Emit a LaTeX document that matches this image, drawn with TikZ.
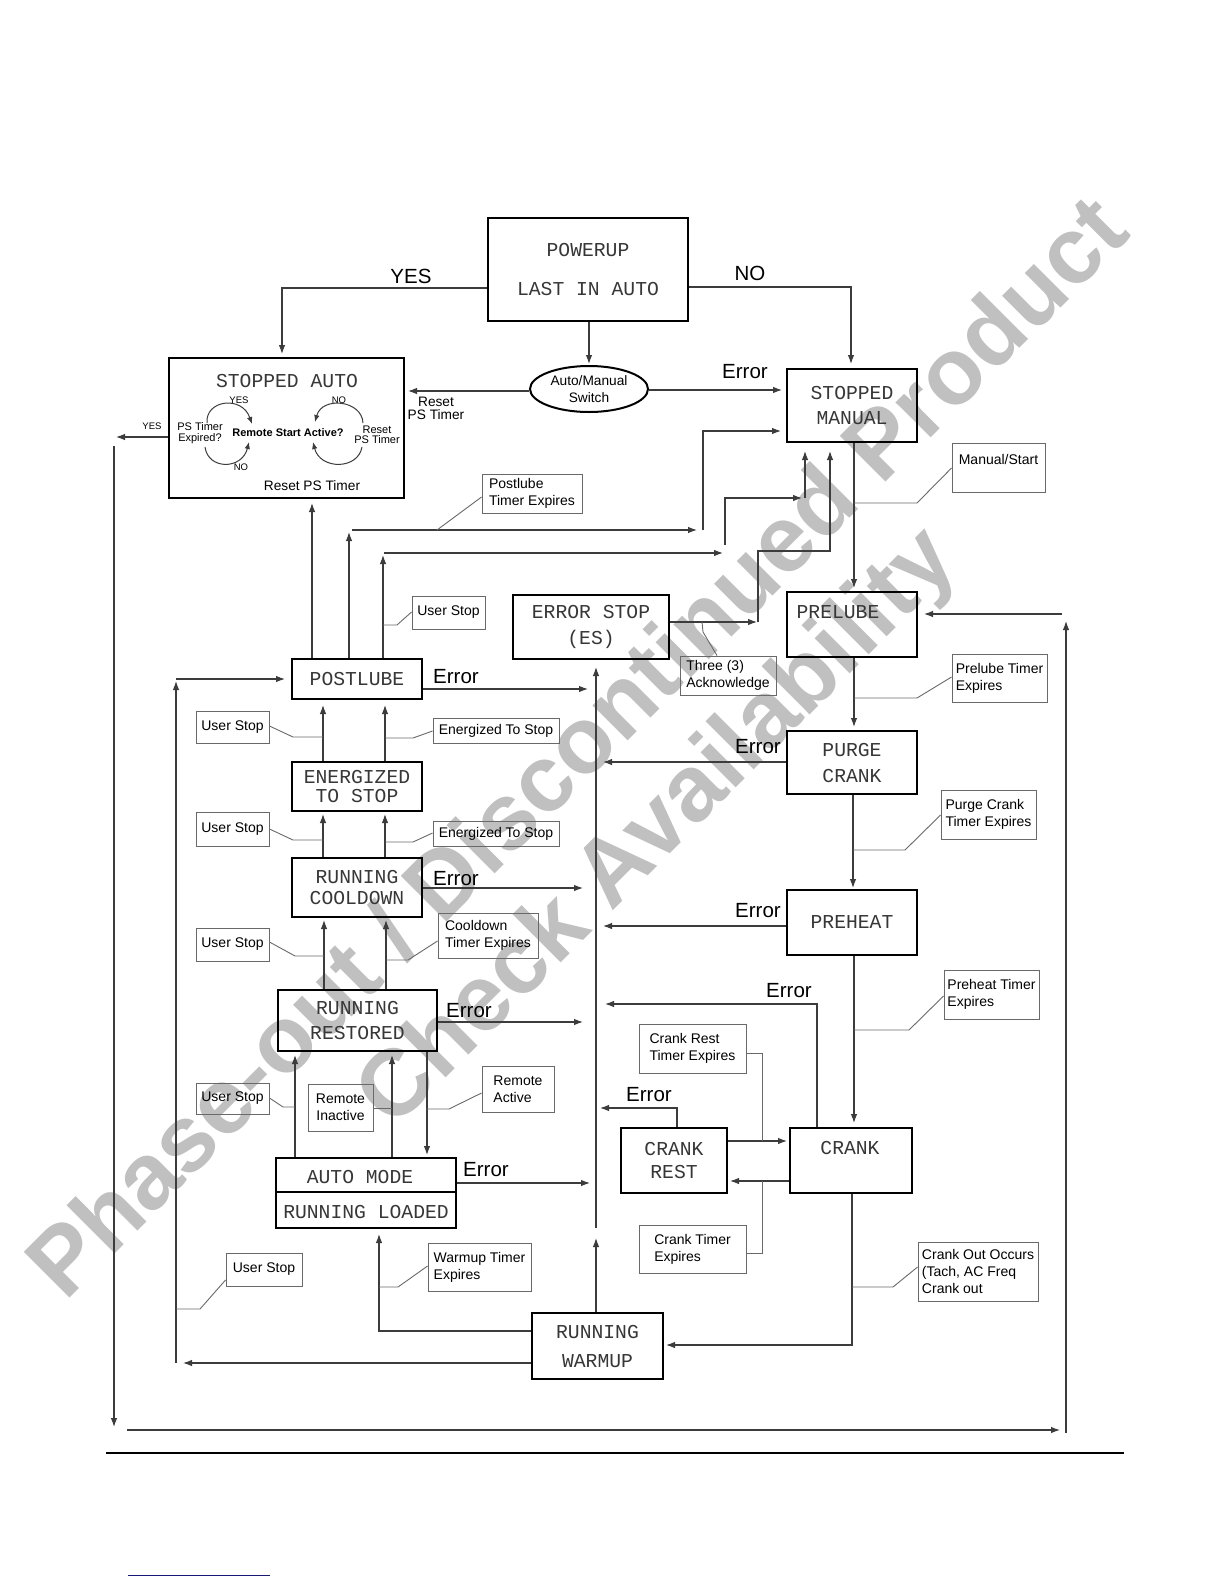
\documentclass[tikz,border=0pt]{standalone}
\usepackage{fontspec}
\setmainfont{Liberation Sans}
\newfontfamily\lcdfont{Liberation Mono}
\usetikzlibrary{arrows.meta,positioning,calc,shapes.geometric}
\definecolor{lcdgray}{RGB}{55,55,55}
\definecolor{wmgray}{RGB}{192,192,192}
\definecolor{linegray}{RGB}{60,60,60}
\definecolor{notegray}{RGB}{105,105,105}
\definecolor{footblue}{RGB}{25,25,120}

\begin{document}
\begin{tikzpicture}[x=1pt,y=-1pt,>={Latex[length=9pt,width=6.5pt]},
  statebox/.style={draw=black,line width=2.4pt,inner sep=0pt,align=center,text=lcdgray,font=\lcdfont\fontsize{19.7}{25}\selectfont},
  lcdskip/.style={font=\lcdfont\fontsize{19.7}{#1}\selectfont},
  lcdtext/.style={inner sep=0pt,text=lcdgray,font=\lcdfont\fontsize{19.7}{25}\selectfont},
  notebox/.style={draw=notegray,line width=0.9pt,inner sep=0pt,align=left,font=\fontsize{14}{17}\selectfont},
  notetext/.style={inner sep=0pt,align=center,font=\fontsize{13.7}{13}\selectfont},
  errlabel/.style={inner sep=0pt,font=\fontsize{20.5}{24}\selectfont},
  smalltext/.style={inner sep=0pt,font=\fontsize{9.5}{11}\selectfont},
  tinytext/.style={inner sep=0pt,align=center,font=\fontsize{11}{10.5}\selectfont},
  conn/.style={draw=linegray,line width=1.1pt},
  loopconn/.style={draw=linegray,line width=1pt,>={Latex[length=7pt,width=5.5pt]}},
  leader/.style={draw=notegray,line width=0.9pt}]
\useasboundingbox (0,0) rectangle (1224,1584);
\fill[white] (0,0) rectangle (1224,1584);

% watermark
\node[inner sep=0pt,text=wmgray,align=center,rotate=45,font=\bfseries\fontsize{94}{110}\selectfont] (watermark) at (621,791) {Phase-out / Discontinued Product\\Check Availability};

% states
\node[statebox,minimum width=200pt,minimum height=103pt,lcdskip=39] (powerup) at (588,269.5) {POWERUP\\LAST IN AUTO};
\node[statebox,minimum width=235pt,minimum height=140pt] (stoppedauto) at (286.5,428) {};
\node[lcdtext] (sautotitle) at (287,381) {STOPPED AUTO};
\node[draw=black,line width=2pt,ellipse,minimum width=118pt,minimum height=46pt,inner sep=0pt,align=center,font=\fontsize{13.7}{17}\selectfont] (switch) at (589,389) {Auto/Manual\\Switch};
\node[statebox,minimum width=130pt,minimum height=73pt] (stoppedmanual) at (852,405.5) {STOPPED\\MANUAL};
\node[statebox,minimum width=156pt,minimum height=64pt,lcdskip=26] (errorstop) at (591,627) {ERROR STOP\\(ES)};
\node[statebox,minimum width=130pt,minimum height=65pt] (prelube) at (852,624.5) {};
\node[lcdtext] (prelubetext) at (838,612) {PRELUBE};
\node[statebox,minimum width=130pt,minimum height=63pt,lcdskip=26] (purge) at (852,762.5) {PURGE\\CRANK};
\node[statebox,minimum width=130pt,minimum height=65pt] (preheat) at (852,922.5) {PREHEAT};
\node[statebox,minimum width=122pt,minimum height=65pt] (crank) at (851,1160.5) {};
\node[lcdtext] (cranktext) at (850,1148) {CRANK};
\node[statebox,minimum width=106pt,minimum height=65pt,lcdskip=23] (crankrest) at (674,1160.5) {CRANK\\REST};
\node[statebox,minimum width=131pt,minimum height=66pt,lcdskip=29] (warmup) at (597.5,1346) {RUNNING\\WARMUP};
\node[statebox,minimum width=180pt,minimum height=70pt] (automode) at (366,1193) {};
\node[lcdtext] (automodetop) at (360,1177) {AUTO MODE};
\node[lcdtext] (automodebot) at (366,1212) {RUNNING LOADED};
\node[statebox,minimum width=159pt,minimum height=61pt] (restored) at (357.5,1020.5) {RUNNING\\RESTORED};
\node[statebox,minimum width=130pt,minimum height=59pt,lcdskip=21] (cooldown) at (357,887.5) {RUNNING\\COOLDOWN};
\node[statebox,minimum width=130pt,minimum height=49pt,lcdskip=19] (energized) at (357,786.5) {ENERGIZED\\TO STOP};
\node[statebox,minimum width=130pt,minimum height=40pt] (postlube) at (357,679) {POSTLUBE};
\draw[line width=2pt] (automode.west |- 0,1192) -- (automode.east |- 0,1192);

% inside stopped auto
\node[smalltext] (insideyes) at (239,400) {YES};
\node[smalltext] (insideno) at (339,400) {NO};
\node[smalltext] (insideno2) at (241,467) {NO};
\node[tinytext] (expired) at (200,433) {PS Timer\\Expired?};
\node[inner sep=0pt,font=\bfseries\fontsize{11}{13}\selectfont] (remotestart) at (288,433) {Remote Start Active?};
\node[tinytext] (resetinside) at (377,435) {Reset\\PS Timer};
\node[inner sep=0pt,font=\fontsize{13.7}{16}\selectfont] (resetbottom) at (312,486) {Reset PS Timer};
\draw[loopconn,->] (207,423) .. controls (205,400) and (242,395) .. (252,424);
\draw[loopconn,->] (205,447) .. controls (208,470) and (242,470) .. (249,442);
\draw[loopconn,->] (363,423) .. controls (362,400) and (322,396) .. (315,422);
\draw[loopconn,->] (362,447) .. controls (358,470) and (320,470) .. (313,442);

% notes
\node[notebox,minimum width=100pt,minimum height=39pt] (notepostlube) at (532,493.5) {Postlube\\Timer Expires};
\node[notebox,minimum width=73pt,minimum height=33pt] (noteuser1) at (448.5,612.5) {User Stop};
\node[notebox,minimum width=96pt,minimum height=39pt] (notethree) at (728,675.5) {Three (3)\\Acknowledge};
\node[notebox,minimum width=93pt,minimum height=49pt] (notemanual) at (998.5,467.5) {Manual/Start\\\mbox{}};
\node[notebox,minimum width=95pt,minimum height=48pt] (noteprelube) at (999.5,678) {Prelube Timer\\Expires};
\node[notebox,minimum width=73pt,minimum height=32pt] (noteuser2) at (232.5,727) {User Stop};
\node[notebox,minimum width=126pt,minimum height=25pt] (noteenerg1) at (496,730.5) {Energized To Stop};
\node[notebox,minimum width=73pt,minimum height=34pt] (noteuser3) at (232.5,829) {User Stop};
\node[notebox,minimum width=126pt,minimum height=25pt] (noteenerg2) at (496,833.5) {Energized To Stop};
\node[notebox,minimum width=95pt,minimum height=49pt] (notepurge) at (988.5,814.5) {Purge Crank\\Timer Expires};
\node[notebox,minimum width=73pt,minimum height=33pt] (noteuser4) at (232.5,944.5) {User Stop};
\node[notebox,minimum width=100pt,minimum height=45pt] (notecooldown) at (488,935.5) {Cooldown\\Timer Expires};
\node[notebox,minimum width=95pt,minimum height=49pt] (notepreheat) at (991.5,994.5) {Preheat Timer\\Expires};
\node[notebox,minimum width=107pt,minimum height=49pt] (notecrankrest) at (692.5,1048.5) {Crank Rest\\Timer Expires};
\node[notebox,minimum width=73pt,minimum height=31pt] (noteuser5) at (232.5,1098.5) {User Stop};
\node[notebox,minimum width=65pt,minimum height=47pt,align=center] (noteinactive) at (340.5,1107.5) {Remote\\Inactive};
\node[notebox,minimum width=72pt,minimum height=46pt] (noteactive) at (518,1089) {Remote\\Active};
\node[notebox,minimum width=107pt,minimum height=48pt] (notecranktimer) at (692.5,1249) {Crank Timer\\Expires};
\node[notebox,minimum width=120pt,minimum height=59pt] (notecrankout) at (978,1271.5) {Crank Out Occurs\\(Tach, AC Freq\\Crank out};
\node[notebox,minimum width=76pt,minimum height=33pt] (noteuser6) at (264,1269.5) {User Stop};
\node[notebox,minimum width=103pt,minimum height=48pt] (notewarmup) at (479.5,1267) {Warmup Timer\\Expires};

% labels
\node[errlabel] (yeslabel) at (411,276) {YES};
\node[errlabel] (nolabel) at (750,273) {NO};
\node[notetext] (resetlabel) at (436,408) {Reset\\PS Timer};
\node[errlabel] (errswitch) at (745,372) {Error};
\node[smalltext] (yesleft) at (152,426) {YES};
\node[errlabel] (errpostlube) at (456,677) {Error};
\node[errlabel] (errcooldown) at (456,879) {Error};
\node[errlabel] (errrestored) at (469,1011) {Error};
\node[errlabel] (errautomode) at (486,1170) {Error};
\node[errlabel] (errpurge) at (758,747) {Error};
\node[errlabel] (errpreheat) at (758,911) {Error};
\node[errlabel] (errcrank) at (789,991) {Error};
\node[errlabel] (errcrankrest) at (649,1095) {Error};

% powerup and switch
\draw[conn,->] (powerup.west |- 0,288) -| (282,354);
\draw[conn,->] (powerup.east |- 0,287) -| (851,364);
\draw[conn,->] (powerup.south -| 589,0) -- (589,364);
\draw[conn,->] (switch.west |- 0,391) -- (408,391);
\draw[conn,->] (switch.east |- 0,390) -- (782,390);

% outer loop
\draw[conn,->] (stoppedauto.west |- 0,437) -- (116,437);
\draw[conn,->] (114,446) -- (114,1427);
\draw[conn,->] (127,1430) -- (1060,1430);
\draw[conn,->] (1066,1433) -- (1066,621);
\draw[conn,->] (1062,614) -- (924,614);

% back to stopped auto / stopped manual
\draw[conn,->] (postlube.north -| 312,0) -- (312,503);
\draw[conn,->] (postlube.north -| 349,0) -- (349,532);
\draw[conn,->] (352,530) -- (697,530);
\draw[conn,->] (703,530) |- (781,431);
\draw[conn,->] (postlube.north -| 383,0) -- (383,555);
\draw[conn,->] (384,553) -- (723,553);
\draw[conn,->] (725,545) |- (802,498);
\draw[conn,->] (805,498) -- (805,451);
\draw[conn,->] (errorstop.east |- 0,622) -- (757,622);
\draw[conn,->] (758,622) |- (830,551) -- (830,451);

% start sequence
\draw[conn,->] (stoppedmanual.south -| 854,0) -- (854,588);
\draw[conn,->] (prelube.south -| 854,0) -- (854,727);
\draw[conn,->] (purge.south -| 853,0) -- (853,888);
\draw[conn,->] (preheat.south -| 854,0) -- (854,1123);
\draw[conn,->] (purge.west |- 0,762) -- (603,762);
\draw[conn,->] (preheat.west |- 0,926) -- (603,926);
\draw[conn,->] (crank.north -| 817,0) |- (605,1004);
\draw[conn,->] (crankrest.north -| 677,0) |- (600,1108);
\draw[conn,->] (crankrest.east |- 0,1141) -- (787,1141);
\draw[conn,->] (crank.west |- 0,1181) -- (730,1181);
\draw[conn,->] (crank.south -| 852,0) |- (666,1345);

% error bus
\draw[conn,->] (warmup.north -| 596,0) -- (596,1238);
\draw[conn,->] (596,1228) -- (596,667);
\draw[conn,->] (postlube.east |- 0,689) -- (588,689);
\draw[conn,->] (cooldown.east |- 0,888) -- (583,888);
\draw[conn,->] (restored.east |- 0,1022) -- (583,1022);
\draw[conn,->] (automode.east |- 0,1183) -- (590,1183);

% running chain
\draw[conn,->] (energized.north -| 323,0) -- (323,705);
\draw[conn,->] (energized.north -| 385,0) -- (385,705);
\draw[conn,->] (cooldown.north -| 323,0) -- (323,814);
\draw[conn,->] (cooldown.north -| 385,0) -- (385,814);
\draw[conn,->] (restored.north -| 324,0) -- (324,920);
\draw[conn,->] (restored.north -| 386,0) -- (386,920);
\draw[conn,->] (automode.north -| 295,0) -- (295,1055);
\draw[conn,->] (automode.north -| 392,0) -- (392,1055);
\draw[conn,->] (restored.south -| 427,0) -- (427,1155);
\draw[conn,->] (warmup.west |- 0,1331) -| (379,1234);
\draw[conn,->] (warmup.west |- 0,1363) -- (183,1363);
\draw[conn,->] (176,1363) -- (176,681);
\draw[conn,->] (176,679) -- (285,679);

% leaders
\draw[leader] (437,530) -- (notepostlube.west |- 0,497);
\draw[leader] (383,625) -- (397,625) -- (noteuser1.west |- 0,612);
\draw[leader] (702,622) -- (703,632) -- (notethree.north -| 717,0);
\draw[leader] (854,503) -- (917,503) -- (notemanual.west |- 0,468);
\draw[leader] (854,698) -- (917,698) -- (noteprelube.west |- 0,677);
\draw[leader] (853,850) -- (905,850) -- (notepurge.west |- 0,815);
\draw[leader] (854,1030) -- (909,1030) -- (notepreheat.west |- 0,996);
\draw[leader] (notecrankrest.east |- 0,1053) -| (762,1141);
\draw[leader] (notecranktimer.east |- 0,1253) -| (762,1181);
\draw[leader] (852,1287) -- (893,1287) -- (notecrankout.west |- 0,1267);
\draw[leader] (379,1287) -- (398,1287) -- (notewarmup.west |- 0,1266);
\draw[leader] (176,1309) -- (200,1309) -- (noteuser6.west |- 0,1280);
\draw[leader] (noteuser2.east |- 0,726) -- (293,737) -- (323,737);
\draw[leader] (385,738) -- (413,738) -- (noteenerg1.west |- 0,731);
\draw[leader] (noteuser3.east |- 0,829) -- (293,840) -- (323,840);
\draw[leader] (385,842) -- (413,842) -- (noteenerg2.west |- 0,833);
\draw[leader] (noteuser4.east |- 0,942) -- (295,956) -- (324,956);
\draw[leader] (386,960) -- (408,960) -- (notecooldown.west |- 0,941);
\draw[leader] (noteuser5.east |- 0,1098) -- (283,1107) -- (295,1107);
\draw[leader] (noteinactive.east |- 0,1108) -- (392,1108);
\draw[leader] (426,1109) -- (449,1109) -- (noteactive.west |- 0,1093);

% page rules
\draw[line width=2.4pt] (106,1453) -- (1124,1453);
\draw[footblue,line width=1pt] (128,1575) -- (270,1575);
\end{tikzpicture}
\end{document}
